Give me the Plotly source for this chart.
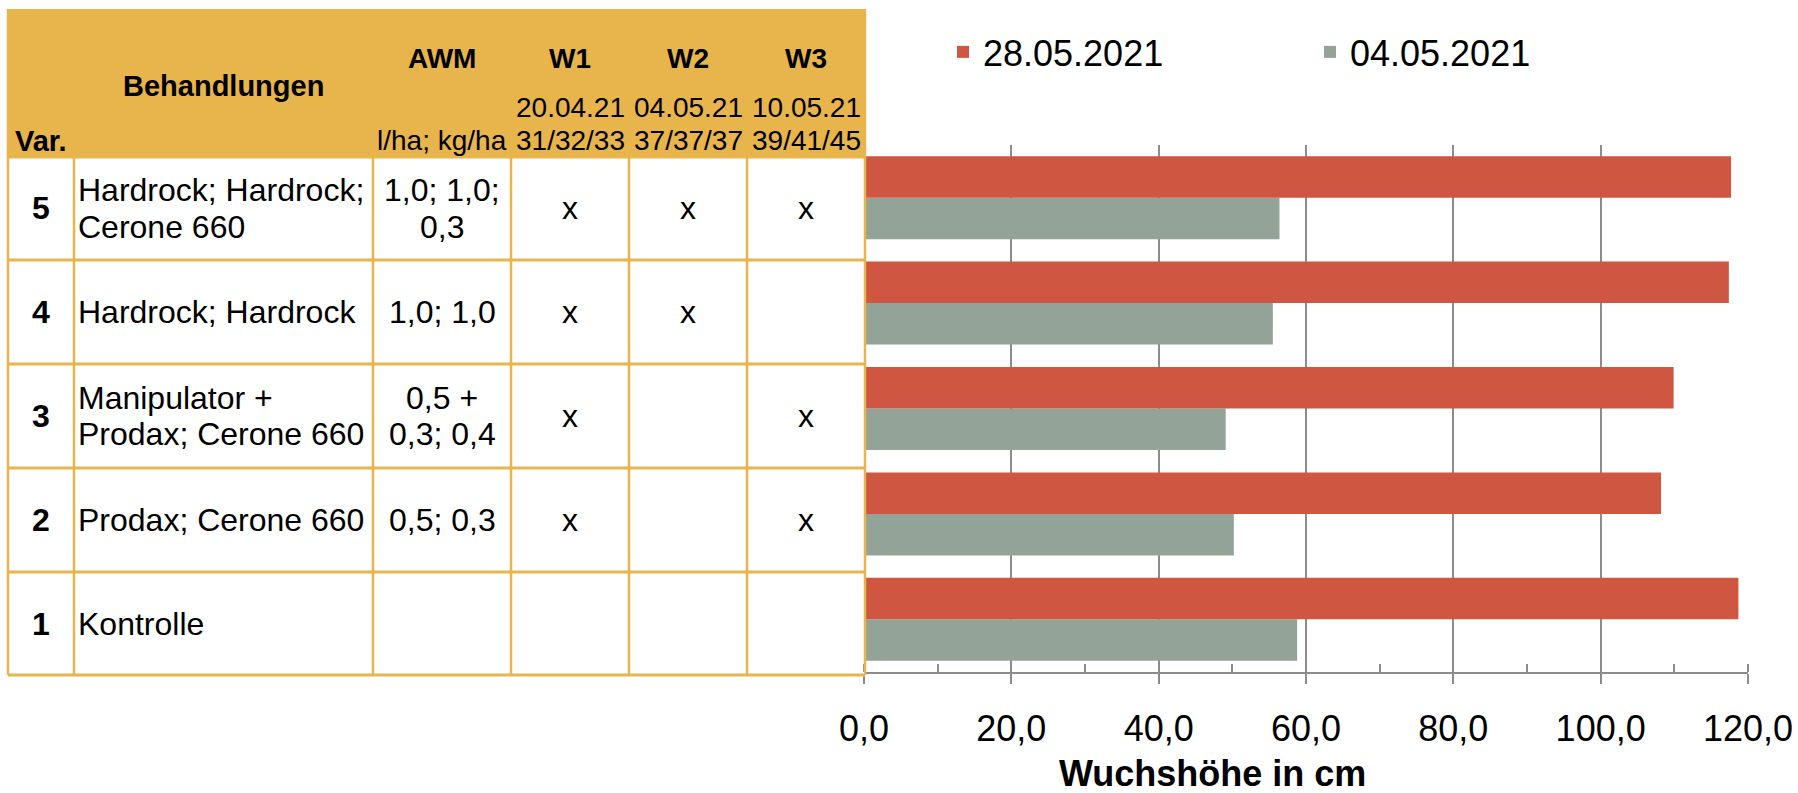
import plotly.graph_objects as go

W, H = 1798, 793

# ---------------- data ----------------
categories = ['1', '2', '3', '4', '5']
hoehe_28_05 = [118.7, 108.2, 109.9, 117.4, 117.7]
hoehe_04_05 = [58.8, 50.2, 49.1, 55.5, 56.4]
series_names = ['28.05.2021', '04.05.2021']
x_tick_step = 20
x_range = [0, 120]
x_title = 'Wuchshöhe in cm'

# table contents (rows top to bottom)
var_labels = ['5', '4', '3', '2', '1']
behandlungen = [['Hardrock; Hardrock;', 'Cerone 660'],
                ['Hardrock; Hardrock'],
                ['Manipulator +', 'Prodax; Cerone 660'],
                ['Prodax; Cerone 660'],
                ['Kontrolle']]
awm = [['1,0; 1,0;', '0,3'],
       ['1,0; 1,0'],
       ['0,5 +', '0,3; 0,4'],
       ['0,5; 0,3'],
       []]
w1 = ['x', 'x', 'x', 'x', '']
w2 = ['x', 'x', '', '', '']
w3 = ['x', '', 'x', 'x', '']
header_main = ['AWM', 'W1', 'W2', 'W3']
header_dates = ['', '20.04.21', '04.05.21', '10.05.21']
header_units = ['l/ha; kg/ha', '31/32/33', '37/37/37', '39/41/45']

# ---------------- style ----------------
RED = '#CF5641'
GREY = '#93A397'
GOLD = '#E8B44C'
AXIS_GREY = '#8C8C8C'
FONT = 'Liberation Sans, Arial, sans-serif'

col_edges = [8, 74, 373, 511, 629, 747, 865]
row_edges = [157, 260, 364, 468, 572, 675]
table_top = 9
plot_x0, plot_x1 = 864, 1748
plot_y0, plot_y1 = 145, 672
LINE_SP = 36.8


def px(x):
    return x / W


def py(y):
    return 1 - y / H


fig = go.Figure()
fig.add_trace(go.Bar(y=categories, x=hoehe_04_05, name=series_names[1], orientation='h',
                     marker=dict(color=GREY, line=dict(width=0))))
fig.add_trace(go.Bar(y=categories, x=hoehe_28_05, name=series_names[0], orientation='h',
                     marker=dict(color=RED, line=dict(width=0))))

shapes = []
# header fill
shapes.append(dict(type='rect', xref='paper', yref='paper', x0=px(col_edges[0]), x1=px(col_edges[-1]),
                   y0=py(row_edges[0]), y1=py(table_top), fillcolor=GOLD, line=dict(width=0), layer='below'))
# horizontal lines
for y in row_edges:
    shapes.append(dict(type='line', xref='paper', yref='paper', x0=px(col_edges[0]), x1=px(col_edges[-1]),
                       y0=py(y), y1=py(y), line=dict(color=GOLD, width=3)))
# vertical lines
for i, x in enumerate(col_edges):
    top = table_top if i in (0, len(col_edges) - 1) else row_edges[0]
    shapes.append(dict(type='line', xref='paper', yref='paper', x0=px(x), x1=px(x),
                       y0=py(top), y1=py(row_edges[-1]), line=dict(color=GOLD, width=2.5)))

annotations = []


def text(t, x, y, size, bold=False, anchor='center'):
    annotations.append(dict(text=('<b>%s</b>' % t) if bold else t, xref='paper', yref='paper',
                            x=px(x), y=py(y), xanchor=anchor, yanchor='middle', showarrow=False,
                            font=dict(family=FONT, size=size, color='black')))


def cc(i):
    return (col_edges[i] + col_edges[i + 1]) / 2


# header
text('Behandlungen', cc(1), 86, 29, bold=True)
text('Var.', 13, 140.7, 29, bold=True, anchor='left')
for j in range(4):
    text(header_main[j], cc(2 + j), 58.3, 28, bold=True)
    if header_dates[j]:
        text(header_dates[j], cc(2 + j), 107.2, 28)
    text(header_units[j], cc(2 + j), 140.3, 28)

# body
for i in range(5):
    yc = (row_edges[i] + row_edges[i + 1]) / 2
    text(var_labels[i], cc(0), yc, 32, bold=True)
    lines = behandlungen[i]
    for k, ln in enumerate(lines):
        text(ln, col_edges[1] + 1.5, yc + (k - (len(lines) - 1) / 2) * LINE_SP, 32, anchor='left')
    lines = awm[i]
    for k, ln in enumerate(lines):
        text(ln, cc(2), yc + (k - (len(lines) - 1) / 2) * LINE_SP, 32)
    for j, col in enumerate([w1, w2, w3]):
        if col[i]:
            text(col[i], cc(3 + j), yc, 32)

# axis title
text(x_title, 1212, 773.5, 36, bold=True)

fig.update_layout(
    width=W, height=H,
    margin=dict(l=0, r=0, t=0, b=0, pad=0, autoexpand=False),
    paper_bgcolor='white', plot_bgcolor='white',
    separators=',.',
    barmode='group', bargap=0.2125, bargroupgap=0,
    font=dict(family=FONT, color='black'),
    shapes=shapes, annotations=annotations,
    showlegend=True,
    legend=dict(orientation='h', x=px(943), xanchor='left', y=py(52), yanchor='middle',
                traceorder='reversed', entrywidth=322, font=dict(family=FONT, size=36, color='black'),
                bgcolor='rgba(0,0,0,0)', borderwidth=0),
    xaxis=dict(domain=[px(plot_x0), px(plot_x1)], range=x_range, tick0=0, dtick=x_tick_step,
               tickformat='.1f', showgrid=True, gridcolor=AXIS_GREY, gridwidth=1.5,
               zeroline=False, showline=True, linecolor=AXIS_GREY, linewidth=1.5,
               ticks='outside', ticklen=10, tickwidth=1.5, tickcolor=AXIS_GREY,
               ticklabelstandoff=14, automargin=False,
               minor=dict(dtick=10, ticks='inside', ticklen=8, tickwidth=1.5, tickcolor=AXIS_GREY,
                          showgrid=False),
               tickfont=dict(family=FONT, size=36, color='black'), fixedrange=True),
    yaxis=dict(domain=[py(plot_y1), py(plot_y0)], type='category', categoryorder='array',
               categoryarray=categories, range=[-0.5, 4.5], showticklabels=False, showgrid=False,
               zeroline=False, showline=False, ticks='', fixedrange=True, automargin=False),
)

fig.write_html("out.html", config={'displayModeBar': False},
               post_script="document.body.style.margin='0';document.body.style.overflow='hidden';")
